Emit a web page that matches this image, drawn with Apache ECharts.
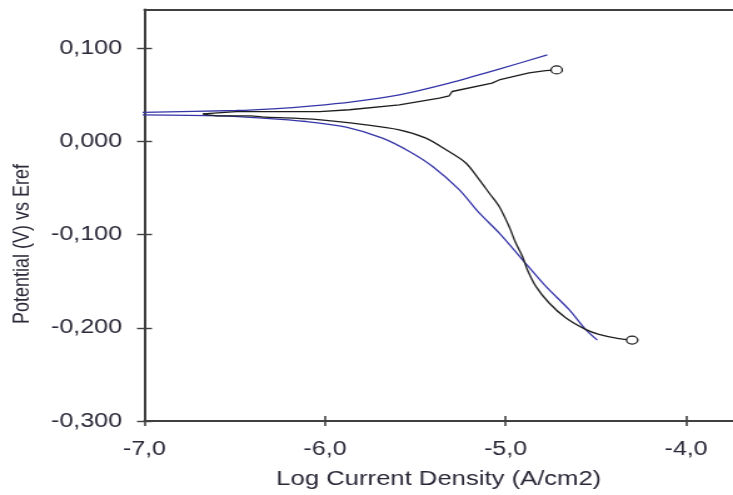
<!DOCTYPE html>
<html>
<head>
<meta charset="utf-8">
<script src="https://cdn.jsdelivr.net/npm/echarts@6/dist/echarts.min.js"></script>
<style>
  html, body { margin: 0; padding: 0; background: #fff; overflow: hidden; }
  #wrap { width: 733px; height: 495px; overflow: hidden; position: relative; }
  #chart { width: 586px; height: 495px; transform: scaleX(1.2509); transform-origin: 0 0; }
</style>
</head>
<body>
<div id="wrap"><div id="chart"></div></div>
<script>
// ---- data ----
const xTicks = [-7, -6, -5, -4];
const yTicks = [-0.3, -0.2, -0.1, 0, 0.1];
const xTitle = 'Log Current Density (A/cm2)';
const yTitle = 'Potential (V) vs Eref';

const blackAnodic = [[-6.677,0.0297],[-6.491,0.0321],[-6.030,0.0321],[-5.865,0.034],[-5.589,0.0393],[-5.367,0.0465],[-5.312,0.049],[-5.296,0.0536],[-5.075,0.0626],[-5.036,0.066],[-4.870,0.0736],[-4.778,0.0761],[-4.717,0.0768]];
const blackCathodic = [[-6.677,0.0297],[-6.583,0.0275],[-6.417,0.0275],[-6.325,0.0261],[-6.069,0.024],[-5.772,0.0179],[-5.589,0.0125],[-5.441,0.0036],[-5.330,-0.0089],[-5.220,-0.0231],[-5.146,-0.041],[-5.091,-0.0553],[-5.036,-0.0696],[-4.981,-0.0911],[-4.944,-0.1088],[-4.907,-0.1232],[-4.880,-0.1374],[-4.833,-0.1553],[-4.760,-0.1731],[-4.667,-0.1892],[-4.557,-0.2017],[-4.483,-0.2071],[-4.373,-0.2117],[-4.299,-0.2132]];
const blueAnodic = [[-7.034,0.0311],[-6.491,0.0332],[-6.290,0.035],[-6.069,0.0382],[-5.850,0.0425],[-5.589,0.050],[-5.312,0.0626],[-5.036,0.0776],[-4.769,0.0929]];
const blueCathodic = [[-7.034,0.0286],[-6.583,0.0275],[-6.345,0.0251],[-6.104,0.0214],[-5.883,0.0154],[-5.682,0.0036],[-5.533,-0.0107],[-5.404,-0.0268],[-5.257,-0.0517],[-5.146,-0.0767],[-5.036,-0.0981],[-4.907,-0.1267],[-4.778,-0.1553],[-4.649,-0.1803],[-4.557,-0.2017],[-4.492,-0.2132]];

// ---- chart ----
const X_MIN = -7, X_MAX = -3.74, Y_MIN = -0.3, Y_MAX = 0.1416;
const AXIS_COLOR = '#404040';
const TEXT_COLOR = '#2b2838';
const FONT = 'Liberation Sans, Arial, sans-serif';

const chart = echarts.init(document.getElementById('chart'), null, { renderer: 'canvas' });

function endMarker(arr) {
  const last = arr.length - 1;
  return function (value, params) { return params.dataIndex === last ? 'circle' : 'none'; };
}
function lineSeries(data, color, withMarker, smooth) {
  return {
    type: 'line', data: data, xAxisIndex: 0, yAxisIndex: 0,
    clip: false, animation: false, silent: true,
    showSymbol: true, showAllSymbol: true,
    symbol: withMarker ? endMarker(data) : 'none',
    symbolSize: [9, 8],
    smooth: smooth || false,
    itemStyle: { color: '#fff', borderColor: color, borderWidth: 1.2 },
    lineStyle: { color: color, width: 1.3 },
    z: withMarker ? 3 : 2
  };
}

const option = {
  backgroundColor: '#fff',
  animation: false,
  grid: { left: 115.5, right: 0, top: 9.5, bottom: 73.3, containLabel: false },
  xAxis: [
    {
      type: 'value', position: 'bottom', min: X_MIN, max: X_MAX,
      splitLine: { show: false },
      axisLine: { show: true, onZero: false, lineStyle: { color: AXIS_COLOR, width: 2 } },
      axisTick: { show: true, length: 5, customValues: xTicks, lineStyle: { color: AXIS_COLOR, width: 1.6 } },
      axisLabel: {
        customValues: xTicks, margin: 18, color: TEXT_COLOR,
        fontFamily: FONT, fontSize: 20,
        formatter: v => v.toFixed(1).replace('.', ',')
      },
      name: xTitle, nameLocation: 'middle', nameGap: 48,
      nameTextStyle: { color: TEXT_COLOR, fontFamily: FONT, fontSize: 20.5 }
    },
    {
      type: 'value', position: 'bottom', min: X_MIN, max: X_MAX,
      splitLine: { show: false },
      axisLine: { show: false, onZero: false },
      axisTick: { show: true, inside: true, length: 5, customValues: xTicks, lineStyle: { color: AXIS_COLOR, width: 1.6 } },
      axisLabel: { show: false }
    },
    {
      type: 'value', position: 'top', min: X_MIN, max: X_MAX,
      splitLine: { show: false },
      axisLine: { show: true, onZero: false, lineStyle: { color: AXIS_COLOR, width: 2 } },
      axisTick: { show: false }, axisLabel: { show: false }
    }
  ],
  yAxis: [
    {
      type: 'value', position: 'left', min: Y_MIN, max: Y_MAX, interval: 0.1,
      splitLine: { show: false },
      axisLine: { show: true, onZero: false, lineStyle: { color: AXIS_COLOR, width: 2 } },
      axisTick: { show: true, length: 6, customValues: yTicks, lineStyle: { color: AXIS_COLOR, width: 1.4 } },
      axisLabel: {
        customValues: yTicks, margin: 18, color: TEXT_COLOR,
        fontFamily: FONT, fontSize: 20,
        formatter: v => (Math.abs(v) < 1e-9 ? 0 : v).toFixed(3).replace('.', ',')
      }
    },
    {
      type: 'value', position: 'left', min: Y_MIN, max: Y_MAX, interval: 0.1,
      splitLine: { show: false },
      axisLine: { show: false, onZero: false },
      axisTick: { show: true, inside: true, length: 6, customValues: yTicks, lineStyle: { color: AXIS_COLOR, width: 1.4 } },
      axisLabel: { show: false }
    }
  ],
  graphic: [
    {
      type: 'text', x: 18.4, y: 244, rotation: Math.PI / 2, silent: true,
      style: {
        text: yTitle, fill: TEXT_COLOR, font: '18px Liberation Sans, Arial, sans-serif',
        textAlign: 'center', textVerticalAlign: 'middle', align: 'center', verticalAlign: 'middle'
      }
    }
  ],
  series: [
    lineSeries(blueAnodic, '#3535a8', false, 0.3),
    lineSeries(blueCathodic, '#3535a8', false, 0.3),
    lineSeries(blackAnodic, '#1e1e1e', true, false),
    lineSeries(blackCathodic, '#1e1e1e', true, 0.3)
  ]
};
chart.setOption(option);
</script>
</body>
</html>
